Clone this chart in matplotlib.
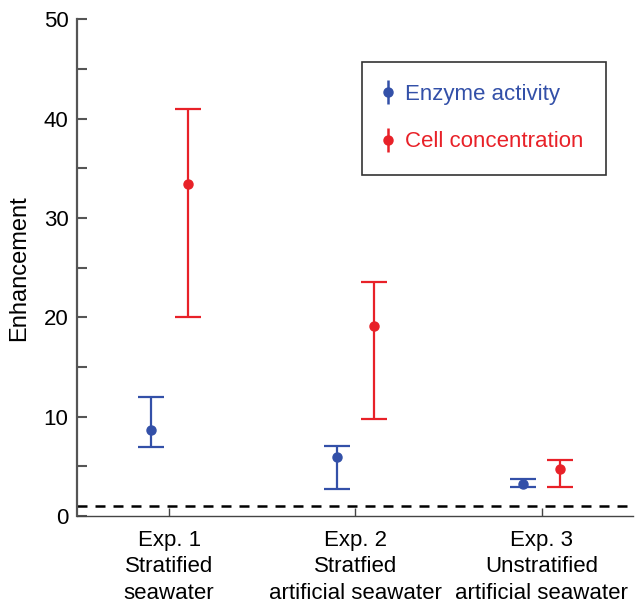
import matplotlib
matplotlib.use("Agg")
import matplotlib.pyplot as plt
from matplotlib.lines import Line2D
from matplotlib.legend_handler import HandlerTuple
import numpy as np

plt.rcParams['font.family'] = ['Liberation Sans', 'DejaVu Sans']

experiments = ["Exp. 1\nStratified\nseawater",
               "Exp. 2\nStratfied\nartificial seawater",
               "Exp. 3\nUnstratified\nartificial seawater"]

enzyme_mean = [8.7, 6.0, 3.2]
enzyme_low = [7.0, 2.7, 2.9]
enzyme_high = [12.0, 7.1, 3.7]

cell_mean = [33.4, 19.1, 4.7]
cell_low = [20.0, 9.8, 2.9]
cell_high = [41.0, 23.6, 5.7]

blue = "#3350a8"
red = "#e82128"

fig = plt.figure(figsize=(6.36, 6.03), dpi=100)
ax = fig.add_axes([0.121, 0.144, 0.874, 0.824])

x = np.arange(1, len(experiments) + 1)
off = 0.1


def yerr(mean, low, high):
    m = np.array(mean)
    return [m - np.array(low), np.array(high) - m]


ax.errorbar(x - off, enzyme_mean, yerr=yerr(enzyme_mean, enzyme_low, enzyme_high),
            fmt="o", color=blue, ms=6.5, elinewidth=1.6, capsize=9.7, capthick=1.6)
ax.errorbar(x + off, cell_mean, yerr=yerr(cell_mean, cell_low, cell_high),
            fmt="o", color=red, ms=6.5, elinewidth=1.6, capsize=9.7, capthick=1.6)

ax.axhline(1, xmin=0, xmax=0.99, color="black", lw=1.8, ls=(0, (4, 3.2)))

ax.set_xlim(0.505, 3.49)
ax.set_ylim(0, 50)
ax.set_xticks(x)
ax.set_xticklabels(experiments, fontsize=16, linespacing=1.33)
ax.set_yticks(np.arange(0, 51, 10))
ax.set_yticks(np.arange(5, 50, 10), minor=True)
ax.tick_params(axis="y", which="both", direction="in", length=7, width=1.5,
               color="#555555", labelsize=16, pad=6)
ax.tick_params(axis="x", direction="in", length=6, width=1.0, color="#444444", pad=10)
ax.set_ylabel("Enhancement", fontsize=17, labelpad=10)

for s in ["top", "right"]:
    ax.spines[s].set_visible(False)
ax.spines["left"].set_linewidth(1.6)
ax.spines["left"].set_color("#555555")
ax.spines["bottom"].set_linewidth(1.0)
ax.spines["bottom"].set_color("#444444")

# legend handles: marker on a plain vertical bar, no caps
handles = []
for c in [blue, red]:
    bar = Line2D([], [], marker="|", ms=17, mew=1.8, color=c, ls="none")
    dot = Line2D([], [], marker="o", ms=6.5, color=c, ls="none")
    handles.append((bar, dot))

leg = ax.legend(handles, ["Enzyme activity", "Cell concentration"],
                handler_map={tuple: HandlerTuple(ndivide=1)},
                loc="upper left", bbox_to_anchor=(0.513, 0.915), borderaxespad=0,
                fontsize=16, frameon=True, fancybox=False, edgecolor="black",
                handlelength=0.3, handletextpad=0.65, labelspacing=1.2,
                borderpad=1.0)
leg.get_frame().set_linewidth(1.2)
for t, c in zip(leg.get_texts(), [blue, red]):
    t.set_color(c)

fig.savefig("out.png", dpi=100)
